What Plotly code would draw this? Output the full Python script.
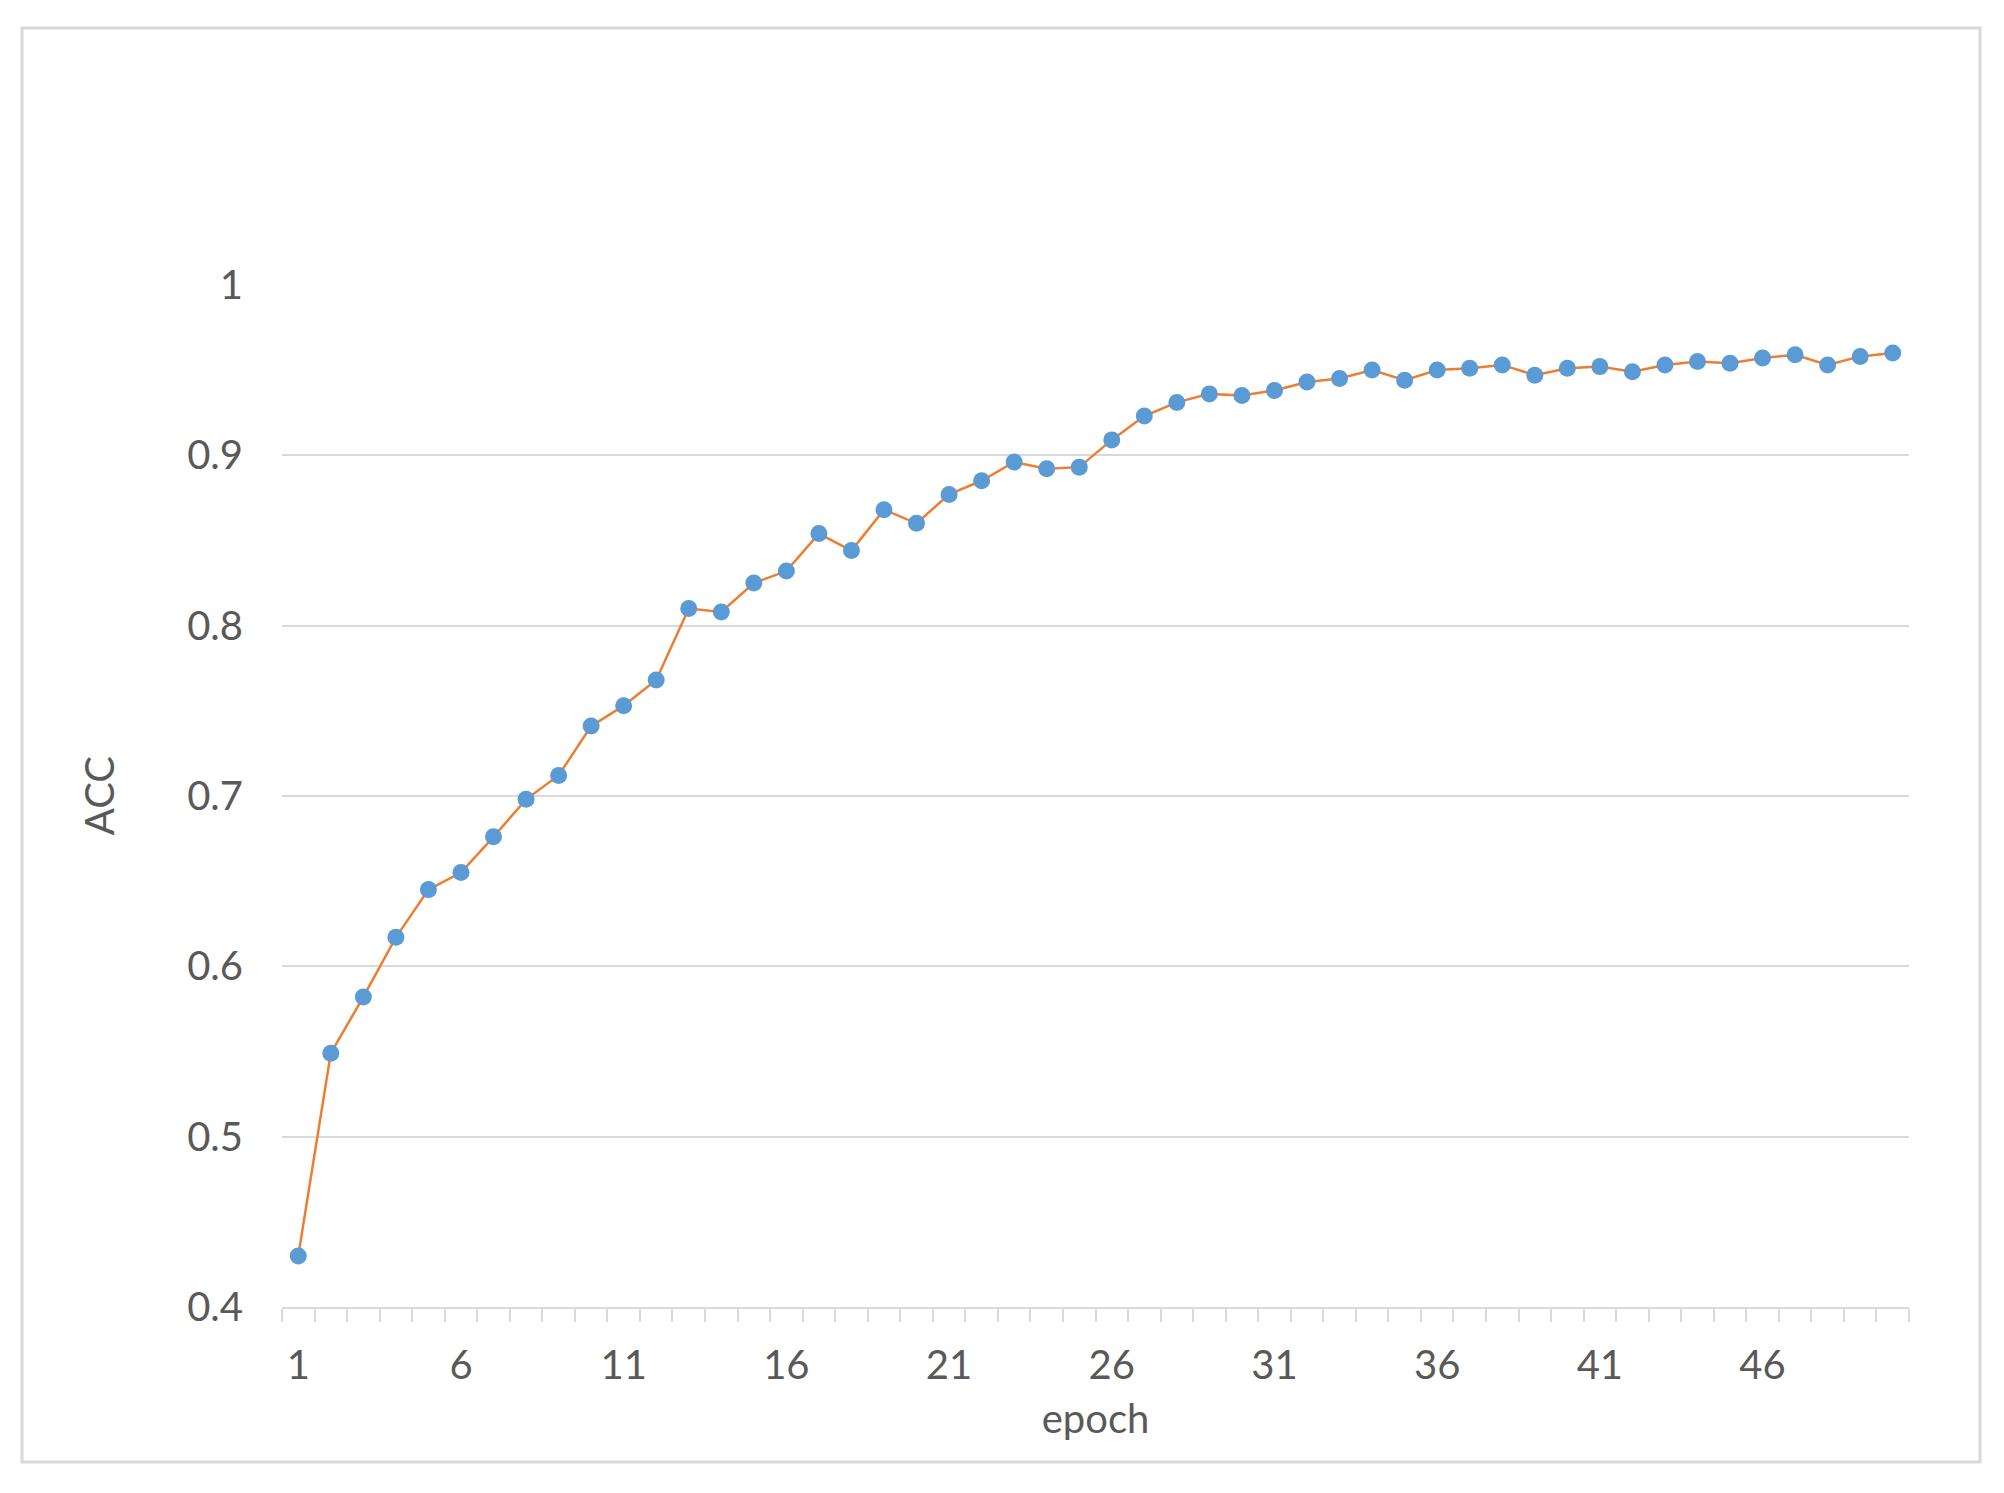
import plotly.graph_objects as go

epochs = list(range(1, 51))
acc = [0.430, 0.549, 0.582, 0.617, 0.645, 0.655, 0.676, 0.698, 0.712, 0.741,
       0.753, 0.768, 0.810, 0.808, 0.825, 0.832, 0.854, 0.844, 0.868, 0.860,
       0.877, 0.885, 0.896, 0.892, 0.893, 0.909, 0.923, 0.931, 0.936, 0.935,
       0.938, 0.943, 0.945, 0.950, 0.944, 0.950, 0.951, 0.953, 0.947, 0.951,
       0.952, 0.949, 0.953, 0.955, 0.954, 0.957, 0.959, 0.953, 0.958, 0.960]

x_tickvals = [1, 6, 11, 16, 21, 26, 31, 36, 41, 46]
x_ticktext = ["1", "6", "11", "16", "21", "26", "31", "36", "41", "46"]
y_tickvals = [0.4, 0.5, 0.6, 0.7, 0.8, 0.9, 1.0]
y_ticktext = ["0.4", "0.5", "0.6", "0.7", "0.8", "0.9", "1"]

FONT = "Lato"
TXT = "#595959"
GRID = "#d9d9d9"

fig = go.Figure()
fig.add_trace(go.Scatter(
    x=epochs, y=acc, mode="lines+markers",
    line=dict(color="#ed7d31", width=2.5),
    marker=dict(color="#5b9bd5", size=17, line=dict(width=0)),
    showlegend=False,
))

# page has an 8px body margin, so the figure is placed at (8, 8)
W, H = 1996, 1485
L, R, T, B = 274, 95, 276, 186
pw, ph = W - L - R, H - T - B

fig.update_layout(
    width=W, height=H, autosize=False,
    margin=dict(l=L, r=R, t=T, b=B, pad=0),
    paper_bgcolor="white", plot_bgcolor="white",
    font=dict(family=FONT, size=40, color=TXT),
    xaxis=dict(
        range=[0.5, 50.5], tickmode="array", tickvals=x_tickvals, ticktext=x_ticktext,
        ticks="", showgrid=False, zeroline=False,
        showline=True, linecolor=GRID, linewidth=2,
        ticklabelstandoff=22,
        minor=dict(ticks="outside", ticklen=13, tickwidth=2, tickcolor=GRID,
                   tick0=0.5, dtick=1, showgrid=False),
        title=dict(text="epoch", font=dict(family=FONT, size=40, color=TXT), standoff=18),
        automargin=False,
    ),
    yaxis=dict(
        range=[0.4, 1.0005], tickmode="array", tickvals=y_tickvals, ticktext=y_ticktext,
        ticks="", showgrid=True, gridcolor=GRID, gridwidth=2, zeroline=False,
        showline=False, ticklabelstandoff=38,
        title=dict(text="ACC", font=dict(family=FONT, size=40, color=TXT), standoff=60),
        automargin=False,
    ),
    shapes=[dict(
        type="rect", xref="paper", yref="paper",
        x0=(14 - L) / pw, x1=(1972 - L) / pw,
        y0=(H - B - 1454) / ph, y1=(H - B - 20) / ph,
        line=dict(color=GRID, width=3), fillcolor="rgba(0,0,0,0)", layer="below",
    )],
)

fig.write_html("out.html")
